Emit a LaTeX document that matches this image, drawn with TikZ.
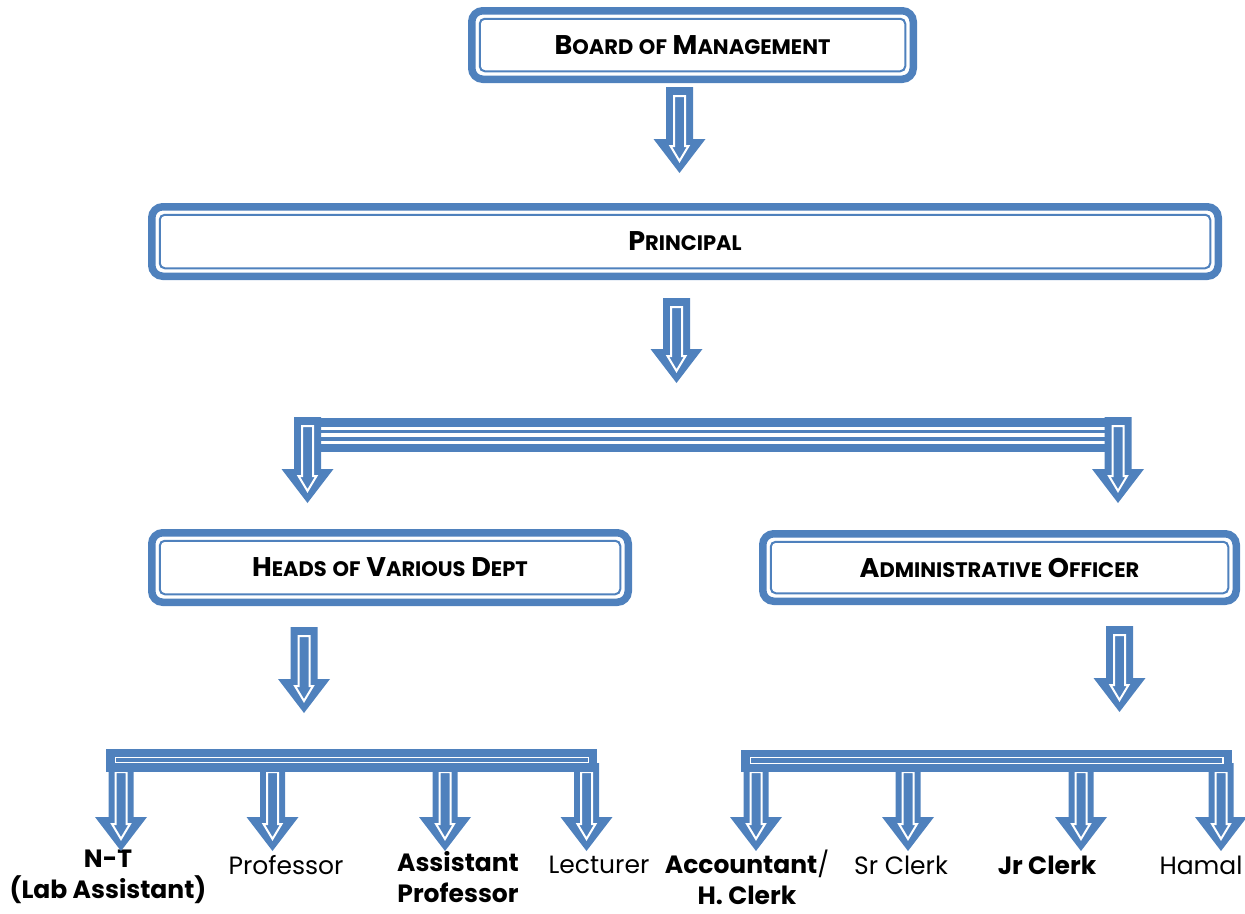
\documentclass[tikz,border=0pt]{standalone}
\usepackage{fontspec}
\setmainfont{Poppins}
\usetikzlibrary{calc}
\definecolor{orgblue}{RGB}{79,129,189}

\newcommand{\smc}[2]{#1{\fontsize{21}{24}\selectfont #2}}
\newcommand{\boxfont}{\fontsize{27}{30}\selectfont\bfseries}
\newcommand{\stafffont}{\fontsize{25}{31}\selectfont}
\newcommand{\fatarrow}[3]{%
\fill[orgblue] ($(#1)+(-#3,0)$) -- ($(#1)+(#3,0)$) -- ($(#2)+(#3,-34)$) -- ($(#2)+(26,-34)$)
  -- (#2) -- ($(#2)+(-26,-34)$) -- ($(#2)+(-#3,-34)$) -- cycle;
\filldraw[fill=orgblue, draw=white, line width=2pt] ($(#1)+(-5.5,9)$) -- ($(#1)+(5.5,9)$)
  -- ($(#2)+(5.5,-27)$) -- ($(#2)+(9,-27)$) -- ($(#2)+(0,-12)$) -- ($(#2)+(-9,-27)$)
  -- ($(#2)+(-5.5,-27)$) -- cycle;}

\tikzset{
  orgbox/.style={draw=orgblue, line width=7.5pt, rounded corners=11pt, fill=white,
    inner sep=0pt, font=\boxfont,
    path picture={\draw[orgblue, line width=2pt, rounded corners=5pt]
      ([shift={(8,8)}]path picture bounding box.north west) rectangle
      ([shift={(-8,-8)}]path picture bounding box.south east);}},
  staff/.style={font=\stafffont, align=center, inner sep=0pt},
}

\begin{document}
\begin{tikzpicture}[x=1pt,y=-1pt]
\useasboundingbox (0,0) rectangle (1245,913);
\node[orgbox, minimum width=441.5, minimum height=68.5] (board) at (692.5,45) {\smc{B}{OARD} \smc{}{OF} \smc{M}{ANAGEMENT}};
\node[orgbox, minimum width=1066.5, minimum height=69.5] (principal) at (685,241.5) {\smc{P}{RINCIPAL}};
\node[orgbox, minimum width=476.5, minimum height=69.5] (heads) at (390,567.5) {\smc{H}{EADS} \smc{}{OF} \smc{V}{ARIOUS} \smc{D}{EPT}};
\node[orgbox, minimum width=473.5, minimum height=67.5] (admin) at (999.5,567.5) {\smc{A}{DMINISTRATIVE} \smc{O}{FFICER}};
%%%%%%%%%%%%%%%
\node[staff, font=\stafffont\bfseries] (nt) at (108,877) {N-T\\(Lab Assistant)};
\node[staff] (prof) at (286,865) {Professor};
\node[staff, font=\stafffont\bfseries] (asst) at (458,877) {Assistant\\Professor};
\node[staff] (lect) at (599,865) {Lecturer};
\node[staff] (acct) at (747,877) {\textbf{Accountant}/\\\textbf{H. Clerk}};
\node[staff] (srclerk) at (901,865) {Sr Clerk};
\node[staff, font=\stafffont\bfseries] (jrclerk) at (1047,865) {Jr Clerk};
\node[staff] (hamal) at (1201,865) {Hamal};
%%%%%%%%%%%%%%%
\coordinate (a1s) at (679.5,87); \coordinate (a1e) at (679.5,173);
\coordinate (a2s) at (676.5,298); \coordinate (a2e) at (676.5,383);
\coordinate (s1s) at (307.5,417); \coordinate (s1e) at (307.5,503);
\coordinate (s2s) at (1118,417); \coordinate (s2e) at (1118,503);
\coordinate (a3s) at (304,627); \coordinate (a3e) at (304,713);
\coordinate (a4s) at (1119.5,626); \coordinate (a4e) at (1119.5,712);
\fatarrow{a1s}{a1e}{13.5}
\fatarrow{a2s}{a2e}{13.5}
% split bar
\fill[orgblue] (294,418) rectangle (1131,452);
\fill[white] (321,427) rectangle (1105,443.5);
\fill[orgblue] (321,429.5) rectangle (1105,433);
\fill[orgblue] (321,437) rectangle (1105,441);
\fatarrow{s1s}{s1e}{13.5}
\fatarrow{s2s}{s2e}{13.5}
\fatarrow{a3s}{a3e}{13.5}
\fatarrow{a4s}{a4e}{13.5}
%%%%%%%%%%%%%%%
\coordinate (b1) at (121,763); \coordinate (b2) at (272.5,763);
\coordinate (b3) at (445,763); \coordinate (b4) at (586.5,763);
\coordinate (b5) at (756,763); \coordinate (b6) at (908,763);
\coordinate (b7) at (1081,763); \coordinate (b8) at (1221,763);
\foreach \b in {b1,b2,b3,b4,b5,b6,b7,b8}{
  \coordinate (\b e) at ($(\b)+(0,88)$);
  \fatarrow{\b}{\b e}{12.5}
}
\filldraw[orgblue] (106,749) rectangle (596,771);
\filldraw[fill=orgblue, draw=white, line width=1.5pt] (115.5,757.5) rectangle (588.5,762.5);
\filldraw[orgblue] (741,750) rectangle (1231,771);
\filldraw[fill=orgblue, draw=white, line width=1.5pt] (750.5,757.5) rectangle (1223,763.5);
\end{tikzpicture}
\end{document}
